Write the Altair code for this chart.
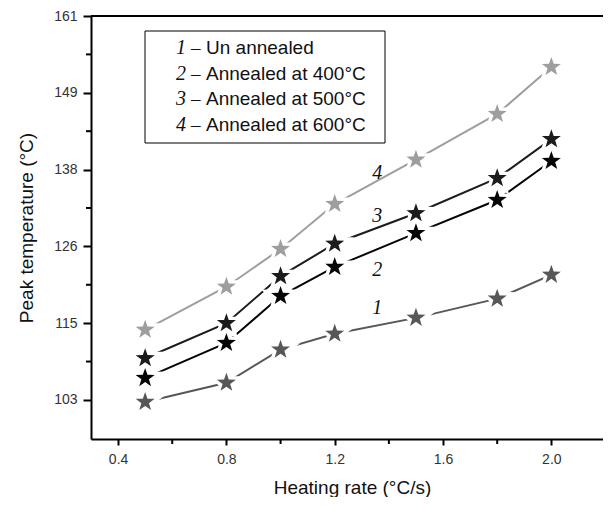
import altair as alt
import pandas as pd

# ---- data ----
heating_rate = [0.5, 0.8, 1.0, 1.2, 1.5, 1.8, 2.0]
unannealed = [102.7, 105.6, 110.6, 113.0, 115.4, 118.3, 121.9]
annealed_400 = [106.3, 111.6, 118.7, 123.1, 128.2, 133.2, 139.1]
annealed_500 = [109.3, 114.6, 121.7, 126.6, 131.2, 136.5, 142.4]
annealed_600 = [113.6, 120.1, 125.8, 132.6, 139.3, 146.2, 153.3]

series_ids = ["1", "2", "3", "4"]
series_colors = ["#575757", "#050505", "#1c1c1c", "#9e9e9e"]
legend_labels = ["Un annealed", "Annealed at 400°C", "Annealed at 500°C", "Annealed at 600°C"]

curve_label_x = [1.357, 1.357, 1.357, 1.357]
curve_label_y = [116.9, 122.6, 130.8, 137.3]

x_ticks = [0.4, 0.8, 1.2, 1.6, 2.0]
x_minor = [0.6, 1.0, 1.4, 1.8]
y_ticks = [103, 114.6, 126.2, 137.8, 149.4, 161]
y_minor = [108.8, 120.4, 132.0, 143.6, 155.2]

W, H = 512, 423
STAR = "M0,-1 L0.235,-0.324 L0.951,-0.309 L0.38,0.124 L0.588,0.809 L0,0.4 L-0.588,0.809 L-0.38,0.124 L-0.951,-0.309 L-0.235,-0.324 Z"

rows = []
for sid, vals in zip(series_ids, [unannealed, annealed_400, annealed_500, annealed_600]):
    for xv, yv in zip(heating_rate, vals):
        rows.append({"series": sid, "rate": xv, "temp": yv})
df = pd.DataFrame(rows)

xs = alt.Scale(domain=[0.3, 2.1907], nice=False, zero=False)
ys = alt.Scale(domain=[97.1, 161], nice=False, zero=False)
cs = alt.Scale(domain=series_ids, range=series_colors)

X = alt.X("rate:Q", scale=xs, axis=alt.Axis(
    values=x_ticks, format=".1f", title="Heating rate (°C/s)", grid=False,
    domainWidth=2, domainColor="#000", tickColor="#000", tickWidth=2, tickSize=6,
    labelFont="Liberation Sans", labelFontSize=14, labelColor="#333", labelPadding=7,
    titleFont="Liberation Sans", titleFontSize=19, titleFontWeight="normal", titleColor="#111",
    titlePadding=12, titleX=261))
Y = alt.Y("temp:Q", scale=ys, axis=alt.Axis(
    values=y_ticks, labelExpr="format(round(datum.value), 'd')", title="Peak temperature (°C)",
    grid=False, domainWidth=2, domainColor="#000", tickColor="#000", tickWidth=2, tickSize=8,
    labelFont="Liberation Sans", labelFontSize=14, labelColor="#333", labelPadding=6,
    titleFont="Liberation Sans", titleFontSize=19, titleFontWeight="normal", titleColor="#111",
    titlePadding=17))

base = alt.Chart(df)
lines = base.mark_line(strokeWidth=2).encode(
    x=X, y=Y, color=alt.Color("series:N", scale=cs, legend=None), detail="series:N")
halo = base.mark_point(shape=STAR, filled=True, fill="white", stroke="white", strokeWidth=7,
                       size=400, opacity=1).encode(x="rate:Q", y="temp:Q")
stars = base.mark_point(shape=STAR, filled=True, size=400, opacity=1, strokeWidth=0).encode(
    x="rate:Q", y="temp:Q", color=alt.Color("series:N", scale=cs, legend=None))

lab_df = pd.DataFrame({"x": curve_label_x, "y": curve_label_y, "t": series_ids})
curve_labels = alt.Chart(lab_df).mark_text(
    font="Liberation Serif", fontStyle="italic", fontSize=20, color="#111").encode(
    x="x:Q", y="y:Q", text="t:N")

ymin_df = pd.DataFrame({"v": y_minor})
y_minor_ticks = alt.Chart(ymin_df).mark_rule(color="#000", strokeWidth=2).encode(
    y="v:Q", x=alt.value(-5), x2=alt.value(0))
xmin_df = pd.DataFrame({"v": x_minor})
x_minor_ticks = alt.Chart(xmin_df).mark_rule(color="#000", strokeWidth=2).encode(
    x="v:Q", y=alt.value(H), y2=alt.value(H + 5))

top_line = alt.Chart(pd.DataFrame({"a": [0]})).mark_rule(color="#000", strokeWidth=2).encode(
    y=alt.value(0), x=alt.value(0), x2=alt.value(W))

box = alt.Chart(pd.DataFrame({"a": [0]})).mark_rect(fill="white", stroke="#000", strokeWidth=1).encode(
    x=alt.value(54), x2=alt.value(294), y=alt.value(15), y2=alt.value(127))

legend_layers = []
row_y = [32, 57.7, 83.4, 109.1]
for sid, lab, ry in zip(series_ids, legend_labels, row_y):
    d = pd.DataFrame({"n": [sid], "l": [lab]})
    legend_layers.append(alt.Chart(d).mark_text(
        font="Liberation Serif", fontStyle="italic", fontSize=20, color="#111", align="right").encode(
        x=alt.value(95), y=alt.value(ry), text="n:N"))
    legend_layers.append(alt.Chart(d).mark_text(
        font="Liberation Serif", fontSize=19, color="#111", align="left").encode(
        x=alt.value(100), y=alt.value(ry), text=alt.value("–")))
    legend_layers.append(alt.Chart(d).mark_text(
        font="Liberation Sans", fontSize=19, color="#111", align="left").encode(
        x=alt.value(115), y=alt.value(ry), text="l:N"))

chart = alt.layer(lines, halo, stars, curve_labels, y_minor_ticks, x_minor_ticks, top_line, box,
                  *legend_layers).properties(
    width=W, height=H,
    autosize=alt.AutoSizeParams(type="none"),
    padding={"left": 83, "top": 8, "right": 0, "bottom": 58},
).configure_view(stroke=None).configure(background="white")

chart.save("out.html", embed_options={"renderer": "svg", "actions": False})
